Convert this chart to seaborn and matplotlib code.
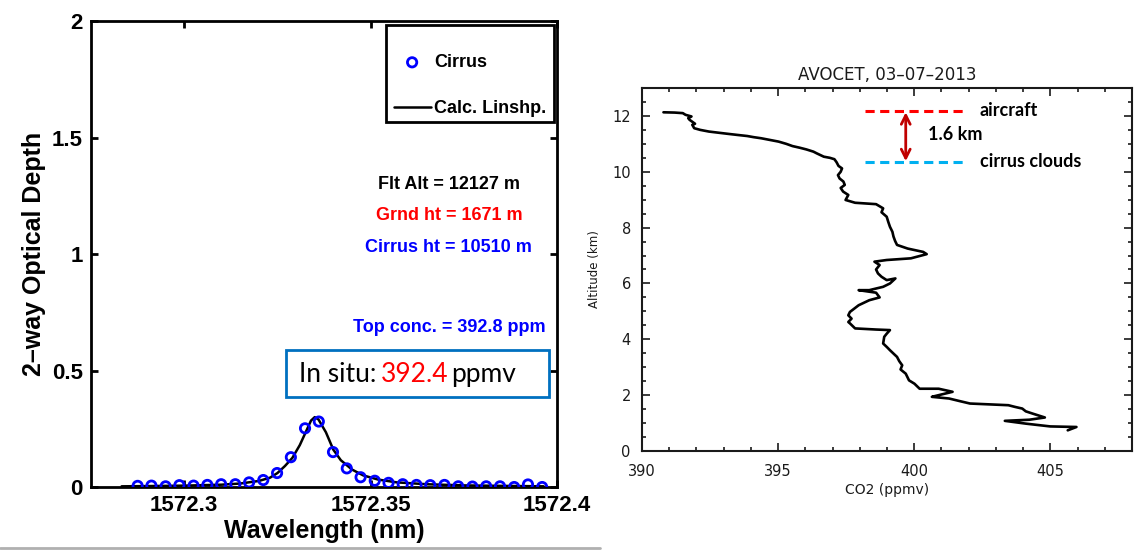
import numpy as np
import pandas as pd
import matplotlib
matplotlib.use("Agg")
import matplotlib.pyplot as plt
import seaborn as sns
from matplotlib.lines import Line2D
from matplotlib.patches import Rectangle
from matplotlib.ticker import MultipleLocator

# --- left panel: cirrus lineshape ---
wl_pts = [1572.2875, 1572.2912, 1572.2950, 1572.2987, 1572.3025, 1572.3062,
          1572.3099, 1572.3137, 1572.3174, 1572.3212, 1572.3249, 1572.3286,
          1572.3324, 1572.3361, 1572.3399, 1572.3436, 1572.3473, 1572.3511,
          1572.3548, 1572.3586, 1572.3623, 1572.3660, 1572.3698, 1572.3735,
          1572.3773, 1572.3810, 1572.3847, 1572.3885, 1572.3922, 1572.3960]
od_pts = [0.005, 0.006, 0.003, 0.008, 0.006, 0.009, 0.012, 0.012, 0.020, 0.030,
          0.060, 0.128, 0.252, 0.281, 0.150, 0.080, 0.042, 0.027, 0.018, 0.012,
          0.009, 0.008, 0.009, 0.003, 0.002, 0.003, 0.003, 0.000, 0.011, 0.000]

wl_line = [1572.2832, 1572.290, 1572.300, 1572.310, 1572.315, 1572.320, 1572.323,
           1572.325, 1572.327, 1572.329, 1572.331, 1572.333, 1572.334, 1572.335,
           1572.336, 1572.338, 1572.340, 1572.342, 1572.345, 1572.348, 1572.352,
           1572.357, 1572.365, 1572.375, 1572.385, 1572.3964]
od_line = [0.003, 0.004, 0.006, 0.010, 0.015, 0.026, 0.040, 0.060, 0.090, 0.125,
           0.180, 0.250, 0.285, 0.300, 0.290, 0.235, 0.160, 0.115, 0.075, 0.050,
           0.032, 0.020, 0.012, 0.007, 0.005, 0.003]

info_lines = ["Flt Alt = 12127 m", "Grnd ht = 1671 m", "Cirrus ht = 10510 m",
              "Top conc. = 392.8 ppm"]
info_y = [1.300, 1.165, 1.030, 0.683]
info_colors = ["black", "#FF0000", "#0000FF", "#0000FF"]

# --- right panel: AVOCET CO2 profile ---
co2 = [390.79, 391.20, 391.50, 391.60, 391.82, 391.70, 391.75, 391.95, 391.85,
       391.92, 392.14, 392.46, 392.80, 393.23, 393.50, 393.87, 394.10, 394.38,
       394.70, 395.02, 395.30, 395.53, 395.80, 396.04, 396.30, 396.42, 396.55,
       396.68, 396.90, 397.07, 397.15, 397.22, 397.35, 397.30, 397.20, 397.26,
       397.40, 397.45, 397.30, 397.39, 397.58, 397.48, 397.83, 398.60, 398.86,
       398.80, 398.99, 399.05, 399.11, 399.20, 399.24, 399.30, 399.37, 399.76,
       400.33, 400.46, 399.88, 398.99, 398.54, 398.73, 398.60, 398.67, 398.80,
       398.99, 399.31, 399.11, 398.86, 398.35, 397.96, 398.60, 398.73, 398.35,
       397.96, 397.64, 397.58, 397.70, 397.58, 397.64, 397.83, 398.60, 399.11,
       398.99, 398.90, 398.86, 399.00, 399.11, 399.25, 399.37, 399.45, 399.56,
       399.50, 399.69, 399.81, 400.01, 400.20, 400.90, 401.41, 400.90, 400.65,
       401.28, 401.66, 402.05, 403.46, 403.70, 403.97, 404.10, 404.35, 404.80,
       404.23, 403.33, 404.10, 405.00, 405.96, 405.64]
alt = [12.13, 12.12, 12.10, 12.04, 11.98, 11.92, 11.86, 11.72, 11.68, 11.56,
       11.50, 11.44, 11.40, 11.35, 11.32, 11.28, 11.24, 11.20, 11.14, 11.08,
       11.00, 10.92, 10.86, 10.80, 10.72, 10.66, 10.60, 10.54, 10.50, 10.45,
       10.34, 10.21, 10.12, 10.00, 9.88, 9.76, 9.65, 9.53, 9.42, 9.29, 9.17,
       8.99, 8.89, 8.84, 8.69, 8.55, 8.39, 8.20, 8.03, 7.85, 7.68, 7.52, 7.38,
       7.25, 7.13, 7.05, 6.90, 6.84, 6.78, 6.66, 6.50, 6.36, 6.24, 6.12, 6.18,
       6.00, 5.88, 5.76, 5.76, 5.67, 5.50, 5.40, 5.22, 4.98, 4.86, 4.74, 4.62,
       4.57, 4.39, 4.35, 4.33, 4.20, 4.09, 3.85, 3.72, 3.61, 3.48, 3.37, 3.22,
       3.07, 2.92, 2.77, 2.53, 2.41, 2.23, 2.23, 2.12, 2.00, 1.94, 1.88, 1.79,
       1.70, 1.64, 1.58, 1.52, 1.42, 1.34, 1.20, 1.12, 1.08, 0.98, 0.88, 0.86,
       0.74]

sns.set_style("ticks")
plt.rcParams["font.family"] = ["Liberation Sans", "DejaVu Sans"]
plt.rcParams["text.color"] = "black"
plt.rcParams["axes.labelcolor"] = "black"

fig = plt.figure(figsize=(11.38, 5.5), dpi=100)

# ---------------- left panel ----------------
ax = fig.add_axes([0.080, 0.1145, 0.4095, 0.8473])
sns.lineplot(x=wl_line, y=od_line, ax=ax, color="black", lw=1.8,
             label="Calc. Linshp.", sort=False, estimator=None)
sns.scatterplot(x=wl_pts, y=od_pts, ax=ax, marker="o", s=45,
                facecolor="none", edgecolor="#0000FF", linewidth=2,
                label="Cirrus", zorder=3)
ax.set_xlim(1572.275, 1572.4)
ax.set_ylim(0, 2)
ax.set_xticks([1572.3, 1572.35, 1572.4])
ax.set_xticklabels(["1572.3", "1572.35", "1572.4"])
ax.set_yticks([0, 0.5, 1, 1.5, 2])
ax.set_yticklabels(["0", "0.5", "1", "1.5", "2"])
ax.tick_params(direction="in", length=5, width=2, top=True, right=True,
               labelsize=16, pad=6, colors="black")
for lab in ax.get_xticklabels() + ax.get_yticklabels():
    lab.set_fontweight("bold")
for sp in ax.spines.values():
    sp.set_linewidth(2)
    sp.set_color("black")
    sp.set_visible(True)
ax.set_xlabel("Wavelength (nm)", fontsize=18, fontweight="bold", labelpad=2)
ax.set_ylabel("2\u2013way Optical Depth", fontsize=18, fontweight="bold",
              labelpad=4)

handles, labels = ax.get_legend_handles_labels()
order = [labels.index("Cirrus"), labels.index("Calc. Linshp.")]
leg = ax.legend([handles[i] for i in order], [labels[i] for i in order],
                loc="center", bbox_to_anchor=(0.8133, 0.8616),
                prop={"weight": "bold", "size": 13}, frameon=False,
                labelspacing=1.6, borderpad=0, handlelength=2.05,
                handletextpad=0.2)
# legend frame (MATLAB style, larger top margin)
ax.add_patch(Rectangle(((386 - 91) / 466, (487 - 122) / 466),
                       (554 - 386) / 466, (122 - 25) / 466,
                       transform=ax.transAxes, fill=False,
                       edgecolor="black", lw=2, zorder=5))

for txt, yy, cc in zip(info_lines, info_y, info_colors):
    ax.text(1572.371, yy, txt, color=cc, fontsize=13, fontweight="bold",
            ha="center", va="center")

# in situ box
fig.add_artist(Rectangle((0.2513, 0.2782), 0.2311, 0.0855,
                         transform=fig.transFigure, fill=False,
                         edgecolor="#0070C0", lw=2))
box_font = ["Lato", "DejaVu Sans"]
fig.text(0.2627, 0.3055, "In situ:", family=box_font, fontsize=19,
         va="baseline", color="black")
fig.text(0.3350, 0.3055, "392.4", family=box_font, fontsize=19,
         va="baseline", color="#FF0000")
fig.text(0.3965, 0.3055, "ppmv", family=box_font, fontsize=19,
         va="baseline", color="black")

fig.add_artist(Line2D([0, 0.527], [0.0036, 0.0036], transform=fig.transFigure,
                      color="#b0b0b0", lw=2))

# ---------------- right panel ----------------
ax2 = fig.add_axes([0.5641, 0.18, 0.4306, 0.66])
sns.lineplot(x=co2, y=alt, ax=ax2, color="black", lw=1.9, sort=False,
             estimator=None)
ax2.set_xlim(390, 408)
ax2.set_ylim(0, 13)
ax2.xaxis.set_major_locator(MultipleLocator(5))
ax2.xaxis.set_minor_locator(MultipleLocator(1))
ax2.yaxis.set_major_locator(MultipleLocator(2))
ax2.yaxis.set_minor_locator(MultipleLocator(0.5))
ax2.tick_params(which="both", direction="in", top=True, right=True,
                width=1.2, labelsize=10.5, colors="#1a1a1a")
ax2.tick_params(which="major", length=6)
ax2.tick_params(which="minor", length=3)
ax2.tick_params(axis="x", which="major", pad=9)
ax2.tick_params(axis="y", which="major", pad=8)
for lab in ax2.get_xticklabels() + ax2.get_yticklabels():
    lab.set_family("DejaVu Sans")
for sp in ax2.spines.values():
    sp.set_linewidth(1.5)
    sp.set_color("#1a1a1a")
    sp.set_visible(True)
ax2.set_xlabel("CO2 (ppmv)", fontsize=10, family="DejaVu Sans",
               color="#1a1a1a", labelpad=3)
ax2.set_ylabel("Altitude (km)", fontsize=8.5, family="DejaVu Sans",
               color="#1a1a1a", labelpad=8)
ax2.set_title("AVOCET, 03\u201307\u20132013", fontsize=12,
              family="DejaVu Sans", color="#1a1a1a", pad=6)

ax2.plot([398.2, 401.9], [12.18, 12.18], color="#FF0000", lw=2.2,
         ls=(0, (3, 1.8)))
ax2.plot([398.2, 401.9], [10.34, 10.34], color="#00B0F0", lw=2.2,
         ls=(0, (3, 1.8)))
ax2.annotate("", xy=(399.69, 12.13), xytext=(399.69, 10.38),
             arrowprops=dict(arrowstyle="<->", color="#C00000", lw=2,
                             mutation_scale=16, shrinkA=0, shrinkB=0))
lbl_font = ["Lato", "DejaVu Sans"]
ax2.text(402.4, 12.21, "aircraft", family=lbl_font, fontsize=13,
         fontweight="bold", va="center")
ax2.text(400.5, 11.35, "1.6 km", family=lbl_font, fontsize=13,
         fontweight="bold", va="center")
ax2.text(402.4, 10.36, "cirrus clouds", family=lbl_font, fontsize=13,
         fontweight="bold", va="center")

fig.savefig("out.png", dpi=100)
